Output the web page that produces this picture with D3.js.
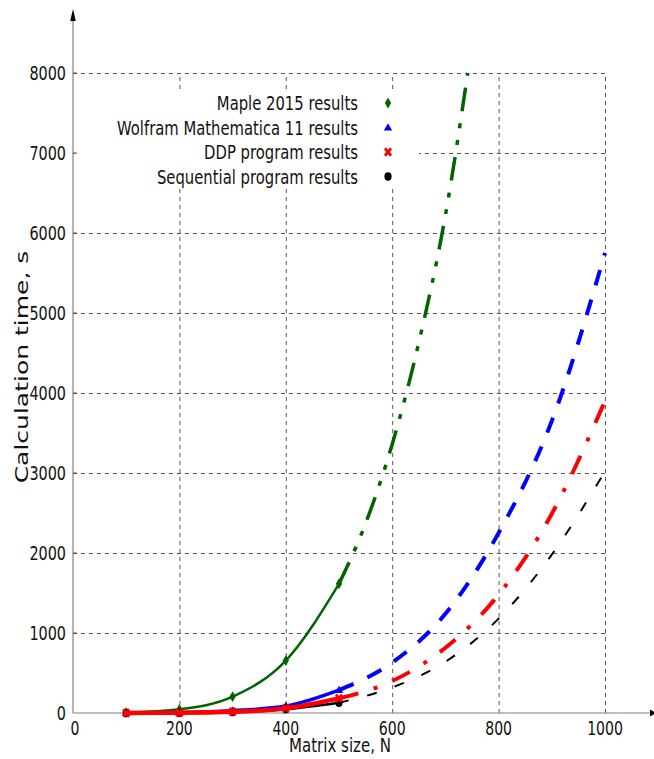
<!DOCTYPE html>
<html>
<head>
<meta charset="utf-8">
<script src="https://cdn.jsdelivr.net/npm/d3@7"></script>
<style>
  body { margin: 0; background: #fff; }
  svg { display: block; font-family: "DejaVu Sans", Verdana, sans-serif; }
</style>
</head>
<body>
<svg id="chart"></svg>
<script>
// measured points
const sizes = [100, 200, 300, 400, 500];
const mapleTimes = [5, 46, 204, 655, 1615];
const wolframTimes = [1, 5, 29, 87, 287];
const ddpTimes = [1, 3, 15, 58, 183];
const seqTimes = [0.5, 2, 12, 48, 129];

// extrapolated parts
const mapleExtSizes = [500, 550, 600, 650, 700, 742];
const mapleExtTimes = [1615, 2370, 3360, 4630, 6220, 8000];
const extSizes = [500, 600, 700, 800, 900, 1000];
const wolframExtTimes = [287, 630, 1240, 2250, 3650, 5750];
const ddpExtTimes = [183, 400, 815, 1480, 2490, 3900];
const seqExtTimes = [129, 320, 640, 1180, 1980, 3020];

const xTicks = [0, 200, 400, 600, 800, 1000];
const yTicks = [0, 1000, 2000, 3000, 4000, 5000, 6000, 7000, 8000];
const legendLabels = ["Maple 2015 results", "Wolfram Mathematica 11 results", "DDP program results", "Sequential program results"];

const width = 654, height = 759;

const svg = d3.select("#chart")
    .attr("width", width)
    .attr("height", height);

const x = d3.scaleLinear().domain([0, 1000]).range([73, 605]);
const y = d3.scaleLinear().domain([0, 8000]).range([713, 73]);

// the whole original figure is squeezed horizontally, so text is too
function squishText(parent, tx, ty, str, size, anchor, sx) {
    return parent.append("text")
        .attr("transform", `translate(${tx},${ty}) scale(${sx},1)`)
        .attr("text-anchor", anchor)
        .attr("font-size", size)
        .attr("fill", "#111")
        .text(str);
}

// grid
const grid = svg.append("g")
    .attr("stroke", "#555")
    .attr("stroke-width", 1)
    .attr("stroke-dasharray", "4,4");

grid.selectAll("line.h")
    .data(yTicks.slice(1))
    .enter()
    .append("line")
    .attr("x1", x(0))
    .attr("x2", x(1000))
    .attr("y1", d => y(d) + 0.5)
    .attr("y2", d => y(d) + 0.5);

grid.selectAll("line.v")
    .data(xTicks.slice(1))
    .enter()
    .append("line")
    .attr("x1", d => x(d) + 0.5)
    .attr("x2", d => x(d) + 0.5)
    .attr("y1", y(0))
    .attr("y2", y(8000));

// legend background hides the grid behind it
svg.append("rect")
    .attr("x", 75)
    .attr("y", 90)
    .attr("width", 344)
    .attr("height", 98)
    .attr("fill", "#fff");

// axes
const axes = svg.append("g");
axes.append("line")
    .attr("x1", x(0)).attr("x2", x(0))
    .attr("y1", y(0)).attr("y2", 18)
    .attr("stroke", "#808080").attr("stroke-width", 1.2);
axes.append("line")
    .attr("x1", x(0)).attr("x2", 650)
    .attr("y1", y(0)).attr("y2", y(0))
    .attr("stroke", "#808080").attr("stroke-width", 1.2);
axes.append("path")
    .attr("d", `M${x(0) - 2.8},21 L${x(0)},9 L${x(0) + 2.8},21 Z`)
    .attr("fill", "#000");
axes.append("path")
    .attr("d", `M650,${y(0) - 3.5} L656,${y(0)} L650,${y(0) + 3.5} Z`)
    .attr("fill", "#000");

axes.selectAll("line.yt")
    .data(yTicks.slice(1))
    .enter()
    .append("line")
    .attr("x1", x(0)).attr("x2", x(0) + 4)
    .attr("y1", d => y(d)).attr("y2", d => y(d))
    .attr("stroke", "#555");

yTicks.forEach(t => squishText(axes, 66, y(t) + 7, String(t), 20, "end", 0.72));
xTicks.forEach(t => squishText(axes, x(t) + (t === 0 ? 2 : 0), 735, String(t), 19.5, "middle", 0.72));

squishText(svg, 340, 752, "Matrix size, N", 19.5, "middle", 0.77);
svg.append("text")
    .attr("transform", `translate(28,367) scale(0.74,1) rotate(-90)`)
    .attr("text-anchor", "middle")
    .attr("font-size", 25)
    .attr("fill", "#111")
    .text("Calculation time, s");

// series
const series = [
    { xs: sizes, ys: mapleTimes, exs: mapleExtSizes, eys: mapleExtTimes, color: "#006400", marker: "diamond", w: 2.5, ew: 3.5, dash: "24,12,5,12,5,12" },
    { xs: sizes, ys: wolframTimes, exs: extSizes, eys: wolframExtTimes, color: "#0000ff", marker: "triangle", w: 3.5, ew: 4, dash: "16,15" },
    { xs: sizes, ys: seqTimes, exs: extSizes, eys: seqExtTimes, color: "#000000", marker: "circle", w: 2.5, ew: 2, dash: "10,19" },
    { xs: sizes, ys: ddpTimes, exs: extSizes, eys: ddpExtTimes, color: "#ff0000", marker: "x", w: 4.5, ew: 4, dash: "20,16,4,16" }
];

const line = d3.line()
    .x(d => x(d[0]))
    .y(d => y(d[1]))
    .curve(d3.curveMonotoneX);

function drawMarker(g, type, cx, cy, color) {
    if (type === "circle") {
        g.append("ellipse")
            .attr("cx", cx).attr("cy", cy)
            .attr("rx", 3.6).attr("ry", 4.2)
            .attr("fill", color);
    } else if (type === "diamond") {
        g.append("path")
            .attr("d", d3.symbol(d3.symbolDiamond, 34)())
            .attr("transform", `translate(${cx},${cy})`)
            .attr("fill", color);
    } else if (type === "triangle") {
        g.append("path")
            .attr("d", d3.symbol(d3.symbolTriangle, 30)())
            .attr("transform", `translate(${cx},${cy + 0.5})`)
            .attr("fill", color);
    } else {
        g.append("path")
            .attr("d", d3.symbol(d3.symbolX, 36)())
            .attr("transform", `translate(${cx},${cy}) scale(0.85,1)`)
            .attr("fill", "none")
            .attr("stroke", color)
            .attr("stroke-width", 3.2);
    }
}

const plot = svg.append("g");
series.forEach(s => {
    const g = plot.append("g");
    g.append("path")
        .attr("d", line(s.exs.map((v, i) => [v, s.eys[i]])))
        .attr("fill", "none")
        .attr("stroke", s.color)
        .attr("stroke-width", s.ew)
        .attr("stroke-dasharray", s.dash);
    g.append("path")
        .attr("d", line(s.xs.map((v, i) => [v, s.ys[i]])))
        .attr("fill", "none")
        .attr("stroke", s.color)
        .attr("stroke-width", s.w);
    s.xs.forEach((v, i) => drawMarker(g, s.marker, x(v), y(s.ys[i]), s.color));
});

// legend
const legendOrder = [0, 1, 3, 2];
const legend = svg.append("g");
legendLabels.forEach((label, i) => {
    const ly = 103 + i * 24.5;
    squishText(legend, 358, ly + 7, label, 19.5, "end", 0.76);
    const s = series[legendOrder[i]];
    drawMarker(legend, s.marker, 388, ly, s.color);
});
</script>
</body>
</html>
